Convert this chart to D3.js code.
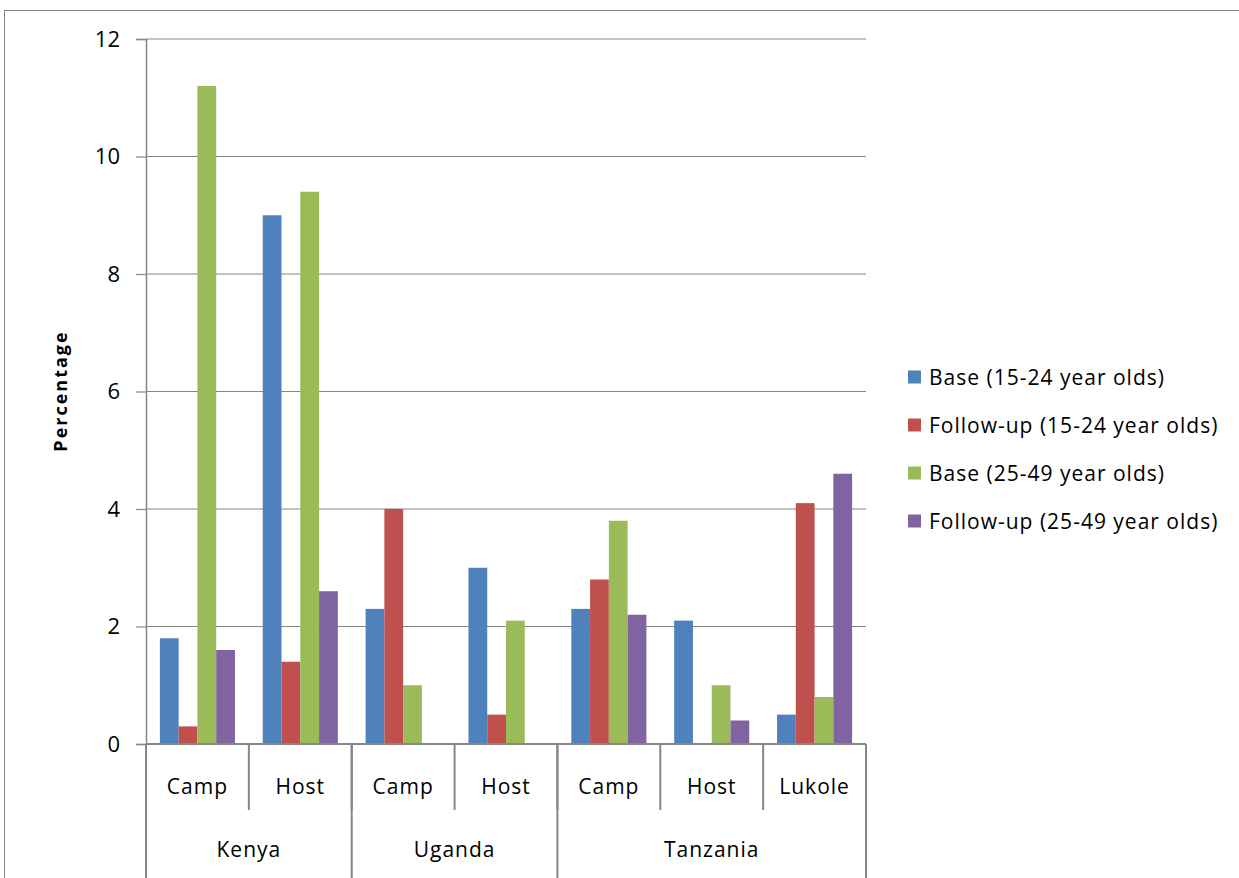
<!DOCTYPE html>
<html>
<head>
<meta charset="utf-8">
<script src="https://cdn.jsdelivr.net/npm/d3@7"></script>
<style>
  html, body { margin: 0; padding: 0; background: #fff; }
  svg { display: block; font-family: "Open Sans", Lato, sans-serif; }
</style>
</head>
<body>
<svg id="chart" width="1239" height="878"></svg>
<script>
// Sites, grouped by country
const countries = ["Kenya", "Uganda", "Tanzania"];
const sites = ["Camp", "Host", "Camp", "Host", "Camp", "Host", "Lukole"];
const siteCountry = ["Kenya", "Kenya", "Uganda", "Uganda", "Tanzania", "Tanzania", "Tanzania"];

// Series (percentage)
const seriesNames = [
  "Base (15-24 year olds)",
  "Follow-up (15-24 year olds)",
  "Base (25-49 year olds)",
  "Follow-up (25-49 year olds)"
];
const base1524     = [1.8, 9.0, 2.3, 3.0, 2.3, 2.1, 0.5];
const followup1524 = [0.3, 1.4, 4.0, 0.5, 2.8, 0,   4.1];
const base2549     = [11.2, 9.4, 1.0, 2.1, 3.8, 1.0, 0.8];
const followup2549 = [1.6, 2.6, 0,   0,   2.2, 0.4, 4.6];
const seriesValues = [base1524, followup1524, base2549, followup2549];
const colors = ["#4F81BD", "#C0504D", "#9BBB59", "#8064A2"];

const yTicks = [0, 2, 4, 6, 8, 10, 12];
const yTitle = "Percentage";

const svg = d3.select("#chart");
const grey = "#868686";

// Outer chart frame
svg.append("rect")
  .attr("x", 4.5).attr("y", 10.5)
  .attr("width", 1300).attr("height", 1000)
  .attr("fill", "none").attr("stroke", grey).attr("stroke-width", 1);

const plot = { left: 146, right: 866, top: 39, bottom: 744 };

const x = d3.scaleBand()
  .domain(d3.range(sites.length))
  .range([plot.left, plot.right])
  .paddingInner(0).paddingOuter(0);

const xs = d3.scaleBand()
  .domain(d3.range(seriesNames.length))
  .range([0, x.bandwidth()])
  .paddingInner(0)
  .paddingOuter(0.74);

const y = d3.scaleLinear().domain([0, 12]).range([plot.bottom, plot.top]);

// Gridlines and y axis
const yAxis = d3.axisLeft(y).tickValues(yTicks).tickSize(10).tickPadding(16)
  .tickFormat(d3.format("d"));
const gy = svg.append("g")
  .attr("transform", `translate(${plot.left},0)`)
  .call(yAxis);
gy.select(".domain").attr("stroke", grey).attr("stroke-width", 1.5);
gy.selectAll(".tick line").attr("stroke", grey).attr("stroke-width", 1.2);
gy.selectAll(".tick text")
  .attr("font-size", 22).attr("fill", "#000")
  .style("font-family", "'Open Sans', sans-serif");

svg.append("g").selectAll("line")
  .data(yTicks.filter(d => d > 0))
  .join("line")
  .attr("x1", plot.left).attr("x2", plot.right)
  .attr("y1", d => y(d)).attr("y2", d => y(d))
  .attr("stroke", grey).attr("stroke-width", 1.2);

// Bars
const groups = svg.append("g").selectAll("g")
  .data(sites.map((s, i) => i))
  .join("g")
  .attr("transform", i => `translate(${x(i)},0)`);

groups.selectAll("rect")
  .data(i => seriesValues.map((vals, k) => ({ k, v: vals[i] })))
  .join("rect")
  .attr("x", d => xs(d.k))
  .attr("width", xs.bandwidth())
  .attr("y", d => y(d.v))
  .attr("height", d => y(0) - y(d.v))
  .attr("fill", d => colors[d.k]);

// Baseline
svg.append("line")
  .attr("x1", plot.left).attr("x2", plot.right)
  .attr("y1", y(0)).attr("y2", y(0))
  .attr("stroke", grey).attr("stroke-width", 2);

// Multi-level category axis
const catG = svg.append("g");
// Site separators (short)
const siteEdges = d3.range(sites.length + 1);
catG.selectAll("line.site")
  .data(siteEdges)
  .join("line")
  .attr("class", "site")
  .attr("x1", i => i < sites.length ? x(i) : plot.right)
  .attr("x2", i => i < sites.length ? x(i) : plot.right)
  .attr("y1", plot.bottom).attr("y2", 810)
  .attr("stroke", grey).attr("stroke-width", 2);

// Country separators (long)
const countryEdges = [0];
countries.forEach(c => {
  const last = siteCountry.lastIndexOf(c);
  countryEdges.push(last + 1);
});
catG.selectAll("line.country")
  .data(countryEdges)
  .join("line")
  .attr("class", "country")
  .attr("x1", i => i < sites.length ? x(i) : plot.right)
  .attr("x2", i => i < sites.length ? x(i) : plot.right)
  .attr("y1", plot.bottom).attr("y2", 878)
  .attr("stroke", grey).attr("stroke-width", 2);

catG.selectAll("text.site")
  .data(sites)
  .join("text")
  .attr("class", "site")
  .attr("x", (d, i) => x(i) + x.bandwidth() / 2)
  .attr("y", 794)
  .attr("text-anchor", "middle")
  .attr("font-size", 21)
  .attr("letter-spacing", 1)
  .attr("fill", "#000")
  .text(d => d);

catG.selectAll("text.country")
  .data(countries)
  .join("text")
  .attr("class", "country")
  .attr("x", c => {
    const first = siteCountry.indexOf(c), last = siteCountry.lastIndexOf(c);
    return (x(first) + x(last) + x.bandwidth()) / 2;
  })
  .attr("y", 857)
  .attr("text-anchor", "middle")
  .attr("font-size", 21)
  .attr("letter-spacing", 1)
  .attr("fill", "#000")
  .text(d => d);

// Y axis title
svg.append("text")
  .attr("transform", `translate(67,391) rotate(-90)`)
  .attr("text-anchor", "middle")
  .attr("font-size", 18)
  .attr("letter-spacing", 2)
  .attr("font-weight", "bold")
  .attr("fill", "#000")
  .text(yTitle);

// Legend
const legend = svg.append("g").attr("transform", "translate(908,377)");
const rows = legend.selectAll("g")
  .data(seriesNames)
  .join("g")
  .attr("transform", (d, i) => `translate(0,${i * 48})`);
rows.append("rect")
  .attr("x", 0).attr("y", -6.5)
  .attr("width", 13).attr("height", 13)
  .attr("fill", (d, i) => colors[i]);
rows.append("text")
  .attr("x", 21).attr("y", 7.5)
  .attr("font-size", 21)
  .attr("letter-spacing", 1)
  .attr("fill", "#000")
  .text(d => d);
</script>
</body>
</html>
